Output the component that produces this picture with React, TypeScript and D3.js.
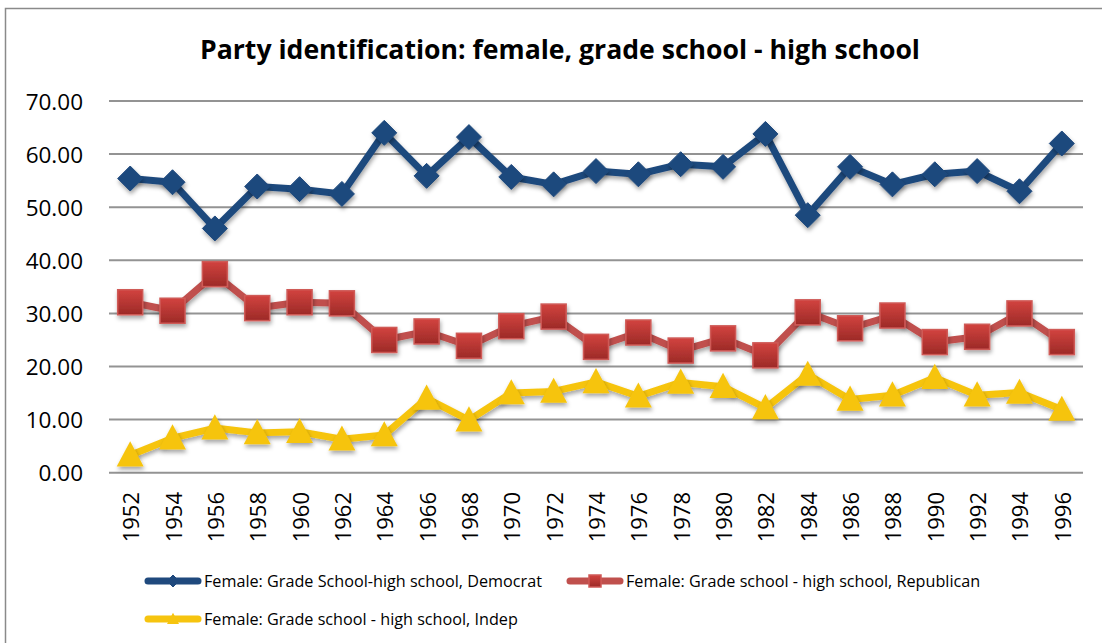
import React from "react";
import * as d3 from "d3";

const years = [
  "1952", "1954", "1956", "1958", "1960", "1962", "1964", "1966", "1968", "1970", "1972", "1974",
  "1976", "1978", "1980", "1982", "1984", "1986", "1988", "1990", "1992", "1994", "1996",
];

const democrat = [
  55.4, 54.7, 46.0, 53.9, 53.4, 52.5, 64.0, 55.9, 63.2, 55.7, 54.3, 56.8,
  56.2, 58.1, 57.6, 63.8, 48.5, 57.6, 54.3, 56.2, 56.8, 53.0, 62.0,
];
const republican = [
  32.1, 30.5, 37.4, 31.0, 32.1, 31.9, 25.0, 26.6, 23.9, 27.6, 29.4, 23.7,
  26.4, 23.0, 25.3, 22.1, 30.2, 27.2, 29.6, 24.6, 25.6, 30.0, 24.6,
];
const indep = [
  3.3, 6.5, 8.4, 7.5, 7.7, 6.3, 7.1, 14.0, 9.9, 15.0, 15.3, 17.1,
  14.4, 17.0, 16.2, 12.2, 18.5, 13.8, 14.6, 17.9, 14.6, 15.1, 11.9,
];

const yTicks = [0, 10, 20, 30, 40, 50, 60, 70];

const seriesNames = [
  "Female: Grade School-high school, Democrat",
  "Female: Grade school - high school, Republican",
  "Female: Grade school - high school, Indep",
];

const FONT = "'Open Sans', 'DejaVu Sans', sans-serif";
const BLUE = "#1f497d";
const RED = "#c0504d";
const YELLOW = "#f6c40f";

type Shape = "diamond" | "square" | "triangle";

function Marker({ shape, x, y, size }: { shape: Shape; x: number; y: number; size: number }) {
  if (shape === "diamond") {
    const h = size / 2;
    return (
      <path
        d={`M${x},${y - h}L${x + h},${y}L${x},${y + h}L${x - h},${y}Z`}
        fill={BLUE}
        stroke={BLUE}
        strokeWidth={1}
      />
    );
  }
  if (shape === "square") {
    const h = size / 2;
    return (
      <rect
        x={x - h}
        y={y - h}
        width={size}
        height={size}
        fill="url(#redGrad)"
        stroke="#cf5a57"
        strokeWidth={1.5}
      />
    );
  }
  const w = size / 2;
  const hh = size * 0.93;
  return (
    <path
      d={`M${x},${y - hh * 0.55}L${x + w},${y + hh * 0.45}L${x - w},${y + hh * 0.45}Z`}
      fill={YELLOW}
    />
  );
}

export default function App() {
  const width = 1102;
  const height = 643;

  const x = d3.scaleBand<string>().domain(years).range([109, 1083]);
  const cx = (yr: string) => (x(yr) as number) + x.bandwidth() / 2;
  const y = d3.scaleLinear().domain([0, 70]).range([472.7, 101]);
  const fmt = d3.format(".2f");

  const line = d3
    .line<number>()
    .x((_, i) => cx(years[i]))
    .y((d) => y(d));

  const series: { values: number[]; color: string; shape: Shape; size: number }[] = [
    { values: democrat, color: BLUE, shape: "diamond", size: 25 },
    { values: republican, color: RED, shape: "square", size: 25 },
    { values: indep, color: YELLOW, shape: "triangle", size: 27 },
  ];

  const legend = [
    { lx: 144, ly: 581, s: series[0], label: seriesNames[0] },
    { lx: 566, ly: 581, s: series[1], label: seriesNames[1] },
    { lx: 144, ly: 619, s: series[2], label: seriesNames[2] },
  ];

  return (
    <svg
      width={width}
      height={height}
      style={{ position: "absolute", left: 0, top: 0, background: "#fff" }}
    >
      <defs>
        <linearGradient id="redGrad" x1="0" y1="0" x2="0" y2="1">
          <stop offset="0%" stopColor="#d2433f" />
          <stop offset="100%" stopColor="#9c2a27" />
        </linearGradient>
        <filter id="shadow" x="-30%" y="-30%" width="160%" height="170%">
          <feDropShadow dx="1" dy="3" stdDeviation="2" floodColor="#000" floodOpacity="0.35" />
        </filter>
      </defs>

      <rect x={5.5} y={8.5} width={1300} height={800} fill="#fff" stroke="#8a8a8a" strokeWidth={1.5} />

      <text
        x={560}
        y={59}
        textAnchor="middle"
        fontFamily={FONT}
        fontWeight="bold"
        fontSize={27}
        textLength={720}
        lengthAdjust="spacingAndGlyphs"
        fill="#000"
      >
        Party identification: female, grade school - high school
      </text>

      {/* gridlines */}
      {yTicks.map((t) => (
        <g key={t}>
          <line x1={109} x2={1083} y1={y(t)} y2={y(t)} stroke="#939393" strokeWidth={2} />
          <text
            x={83}
            y={y(t)}
            textAnchor="end"
            dominantBaseline="central"
            fontFamily={FONT}
            fontSize={22.5}
            fill="#000"
          >
            {fmt(t)}
          </text>
        </g>
      ))}

      {years.map((yr) => (
        <text
          key={yr}
          transform={`translate(${cx(yr)},492) rotate(-90)`}
          textAnchor="end"
          dominantBaseline="central"
          fontFamily={FONT}
          fontSize={22}
          fill="#000"
        >
          {yr}
        </text>
      ))}

      {series.map((s, si) => (
        <g key={si}>
          <path
            d={line(s.values) || ""}
            fill="none"
            stroke={s.color}
            strokeWidth={7}
            strokeLinejoin="round"
            strokeLinecap="round"
            filter="url(#shadow)"
          />
          <g filter="url(#shadow)">
            {s.values.map((v, i) => (
              <Marker key={i} shape={s.shape} x={cx(years[i])} y={y(v)} size={s.size} />
            ))}
          </g>
        </g>
      ))}

      {legend.map((l, i) => (
        <g key={i}>
          <line
            x1={l.lx + 4}
            x2={l.lx + 54}
            y1={l.ly}
            y2={l.ly}
            stroke={l.s.color}
            strokeWidth={7}
            strokeLinecap="round"
          />
          <Marker shape={l.s.shape} x={l.lx + 29} y={l.ly} size={12} />
          <text
            x={l.lx + 60}
            y={l.ly}
            dominantBaseline="central"
            fontFamily={FONT}
            fontSize={16.2}
            fill="#000"
          >
            {l.label}
          </text>
        </g>
      ))}
    </svg>
  );
}
